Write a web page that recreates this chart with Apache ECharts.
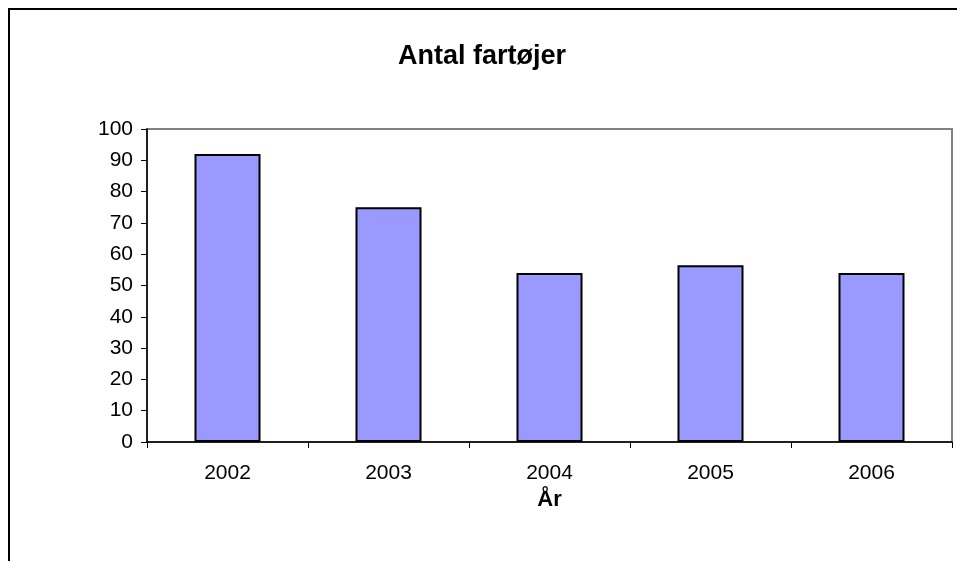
<!DOCTYPE html>
<html><head><meta charset="utf-8">
<script src="https://cdn.jsdelivr.net/npm/echarts@6/dist/echarts.min.js"></script>
<style>html,body{margin:0;padding:0;background:#fff}#c{width:957px;height:561px;position:relative}
#frame{position:absolute;left:8px;top:8px;width:960px;height:600px;border-left:2px solid #000;border-top:2px solid #000;box-sizing:border-box;pointer-events:none}</style>
</head><body><div id="c"></div><div id="frame"></div>
<script>
const categories = ['2002','2003','2004','2005','2006'];
const values = [92, 75, 54, 56.5, 54];
const yTicks = {min:0, max:100, interval:10};

const chart = echarts.init(document.getElementById('c'), null, {renderer:'canvas'});
chart.setOption({
  animation:false,
  backgroundColor:'#fff',
  title:{text:'Antal fartøjer', left:477, top:38, textAlign:'center',
    textStyle:{fontFamily:'Liberation Sans, Arial', fontSize:27, fontWeight:'bold', color:'#000'}},
  grid:{left:147, right:5, top:129, bottom:119, show:true, borderColor:'#808080', borderWidth:2, backgroundColor:'#fff'},
  xAxis:{type:'category', data:categories, name:'År', nameLocation:'middle', nameGap:43,
    nameTextStyle:{fontFamily:'Liberation Sans, Arial', fontSize:22, fontWeight:'bold', color:'#000'},
    axisLine:{lineStyle:{color:'#000', width:1.5}},
    axisTick:{show:true, alignWithLabel:false, length:6, lineStyle:{color:'#000'}},
    axisLabel:{fontFamily:'Liberation Sans, Arial', fontSize:21, color:'#000', margin:21},
    splitLine:{show:false}},
  yAxis:{type:'value', min:yTicks.min, max:yTicks.max, interval:yTicks.interval,
    axisLine:{show:true, lineStyle:{color:'#000', width:1.5}},
    axisTick:{show:true, length:6, lineStyle:{color:'#000'}},
    axisLabel:{fontFamily:'Liberation Sans, Arial', fontSize:21, color:'#000', margin:14},
    splitLine:{show:false}},
  series:[{type:'bar', data:values, barWidth:'41%',
    itemStyle:{color:'#9999ff', borderColor:'#000', borderWidth:2}}]
});
</script></body></html>
